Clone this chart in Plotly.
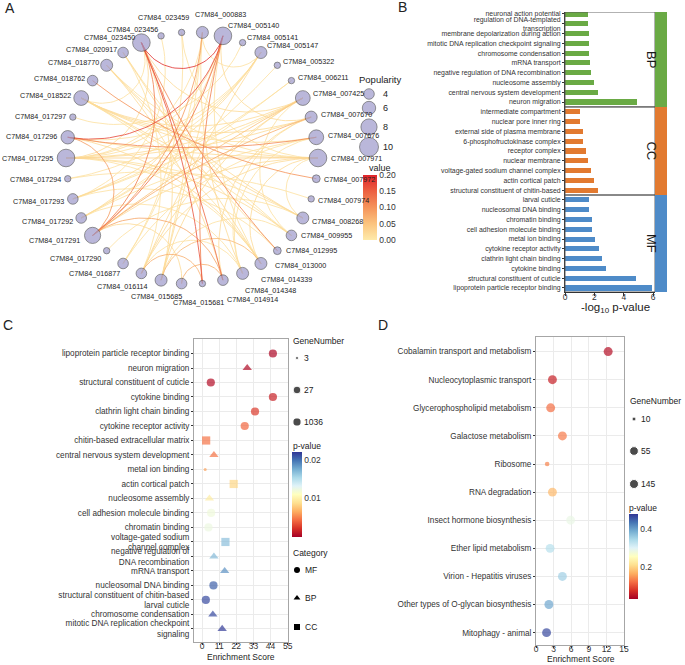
import math
import numpy as np
import plotly.graph_objects as go
from plotly.colors import sample_colorscale

W, H = 685, 665
FONT = "Liberation Sans, Arial, Helvetica, sans-serif"
INK = "#222222"


def fx(p):
    return p / W


def fy(p):
    return 1 - p / H


# ======================= Panel A : network =======================
gene_ids = [
    "C7M84_023450", "C7M84_020917", "C7M84_018770", "C7M84_018762", "C7M84_018522",
    "C7M84_017297", "C7M84_017296", "C7M84_017295", "C7M84_017294", "C7M84_017293",
    "C7M84_017292", "C7M84_017291", "C7M84_017290", "C7M84_016877", "C7M84_016114",
    "C7M84_015685", "C7M84_015681", "C7M84_014914", "C7M84_014348", "C7M84_014339",
    "C7M84_013000", "C7M84_012995", "C7M84_009955", "C7M84_008268", "C7M84_007974",
    "C7M84_007972", "C7M84_007971", "C7M84_007676", "C7M84_007670", "C7M84_007425",
    "C7M84_006211", "C7M84_005322", "C7M84_005147", "C7M84_005141", "C7M84_005140",
    "C7M84_000883", "C7M84_023459", "C7M84_023456"]
popularity = [9, 4, 5, 4, 7, 1, 6, 9, 1, 4, 4, 8, 1, 4, 4, 5, 4, 1, 4, 5,
              5, 2, 4, 5, 1, 2, 9, 7, 5, 7, 1, 1, 5, 1, 9, 5, 1, 1]

edge_from = [
    "023450", "023450", "023450", "023450", "005140", "005140", "023450", "017291",
    "017291", "017296", "018762", "017296", "017291", "016114", "015685", "015681",
    "005140", "017291",
    "018522", "018522", "018522", "018522", "018522", "018522", "018522",
    "017295", "017295", "017295", "017295", "017295", "017295", "017295", "017295",
    "017293", "017293", "017292", "017292", "017292", "017296", "017296",
    "018770", "018770", "018770", "020917", "020917", "020917",
    "023450", "023450", "023450", "023459", "023459", "023456",
    "000883", "000883", "000883", "000883", "005140", "005140", "005140",
    "005141", "005147", "005147", "005322", "006211", "007425", "007425", "007425",
    "007670", "007670", "007676", "007676", "007971", "007971", "007971",
    "007974", "008268", "009955", "013000", "014339", "014348", "015681",
    "016114", "012995", "017291", "017295", "015685"]
edge_to = [
    "005140", "014348", "014914", "012995", "017296", "017291", "017291", "000883",
    "007670", "007676", "007972", "017291", "014348", "014914", "013000", "014348",
    "014914", "007425",
    "007425", "007670", "007676", "007971", "009955", "008268", "013000",
    "007971", "007425", "007670", "008268", "009955", "005147", "005140", "000883",
    "007425", "005147", "005140", "007676", "006211", "005147", "007971",
    "008268", "012995", "007971", "009955", "013000", "016114",
    "018522", "007425", "017295", "007971", "016877", "017293",
    "014339", "015685", "016877", "005147", "015685", "013000", "007670",
    "017297", "017294", "016114", "017292", "017293", "016114", "015685", "009955",
    "014339", "014348", "016877", "014339", "016114", "008268", "013000",
    "017294", "017290", "015685", "017296", "017292", "018770", "017291",
    "014339", "017293", "007971", "013000", "023450"]
edge_value = [
    0.19, 0.14, 0.16, 0.11, 0.17, 0.13, 0.12, 0.09,
    0.07, 0.11, 0.10, 0.09, 0.08, 0.07, 0.06, 0.07,
    0.12, 0.05,
    0.02, 0.02, 0.01, 0.02, 0.01, 0.02, 0.01,
    0.03, 0.02, 0.02, 0.01, 0.02, 0.01, 0.02, 0.01,
    0.01, 0.02, 0.02, 0.01, 0.01, 0.01, 0.02,
    0.02, 0.01, 0.01, 0.01, 0.02, 0.01,
    0.01, 0.02, 0.02, 0.01, 0.01, 0.01,
    0.02, 0.01, 0.01, 0.01, 0.02, 0.01, 0.02,
    0.01, 0.01, 0.02, 0.01, 0.01, 0.02, 0.02, 0.01,
    0.01, 0.02, 0.01, 0.01, 0.02, 0.01, 0.02,
    0.01, 0.01, 0.01, 0.02, 0.01, 0.02, 0.02,
    0.01, 0.01, 0.02, 0.01, 0.02]
popularity_breaks = [4, 6, 8, 10]
value_ticks = [0.0, 0.05, 0.10, 0.15, 0.20]

# ======================= Panel B : GO bars =======================
b_terms = [
    "neuronal action potential",
    "regulation of DNA-templated<br>transcription",
    "membrane depolarization during action",
    "mitotic DNA replication checkpoint signaling",
    "chromosome condensation",
    "mRNA transport",
    "negative regulation of DNA recombination",
    "nucleosome assembly",
    "central nervous system development",
    "neuron migration",
    "intermediate compartment",
    "nuclear pore inner ring",
    "external side of plasma membrane",
    "6-phosphofructokinase complex",
    "receptor complex",
    "nuclear membrane",
    "voltage-gated sodium channel complex",
    "actin cortical patch",
    "structural constituent of chitin-based",
    "larval cuticle",
    "nucleosomal DNA binding",
    "chromatin binding",
    "cell adhesion molecule binding",
    "metal ion binding",
    "cytokine receptor activity",
    "clathrin light chain binding",
    "cytokine binding",
    "structural constituent of cuticle",
    "lipoprotein particle receptor binding"]
b_logp = [1.54, 1.59, 1.63, 1.63, 1.65, 1.72, 1.74, 1.94, 2.26, 4.88,
          1.00, 1.02, 1.20, 1.22, 1.45, 1.59, 1.75, 2.00, 2.27,
          1.63, 1.63, 1.86, 1.86, 2.06, 2.31, 2.52, 2.81, 4.85, 5.94]
b_ontology = ["BP", "BP", "BP", "BP", "BP", "BP", "BP", "BP", "BP", "BP",
              "CC", "CC", "CC", "CC", "CC", "CC", "CC", "CC", "CC",
              "MF", "MF", "MF", "MF", "MF", "MF", "MF", "MF", "MF", "MF"]
b_ticks = [0, 2, 4, 6]

# ======================= Panel C : GO dots =======================
c_terms = [
    "lipoprotein particle receptor binding",
    "neuron migration",
    "structural constituent of cuticle",
    "cytokine binding",
    "clathrin light chain binding",
    "cytokine receptor activity",
    "chitin-based extracellular matrix",
    "central nervous system development",
    "metal ion binding",
    "actin cortical patch",
    "nucleosome assembly",
    "cell adhesion molecule binding",
    "chromatin binding",
    "voltage-gated sodium<br>channel complex",
    "negative regulation of<br>DNA recombination",
    "mRNA transport",
    "nucleosomal DNA binding",
    "structural constituent of chitin-based<br>larval cuticle",
    "chromosome condensation",
    "mitotic DNA replication checkpoint<br>signaling"]
c_category = ["MF", "BP", "MF", "MF", "MF", "MF", "CC", "BP", "MF", "CC",
              "BP", "MF", "MF", "CC", "BP", "BP", "MF", "MF", "BP", "BP"]
c_score = [45.5, 29.0, 5.6, 45.5, 34.0, 27.4, 2.6, 7.6, 2.0, 20.3,
           4.7, 5.8, 4.1, 15.0, 7.6, 14.5, 7.3, 2.4, 6.9, 12.9]
c_pvalue = [0.0004, 0.0005, 0.0006, 0.0015, 0.0026, 0.0042, 0.0046, 0.0046, 0.0062, 0.0084,
            0.0097, 0.0121, 0.0123, 0.0167, 0.0169, 0.0187, 0.0205, 0.0213, 0.0213, 0.0218]
c_genes = [150, 60, 120, 90, 70, 80, 100, 40, 3, 110,
           40, 90, 85, 100, 40, 45, 95, 120, 40, 60]
c_gene_breaks = [3, 27, 1036]
c_ticks = [0, 11, 22, 33, 44, 55]
c_p_ticks = [0.01, 0.02]
category_order = ["MF", "BP", "CC"]

# ======================= Panel D : KEGG dots =======================
d_terms = [
    "Cobalamin transport and metabolism",
    "Nucleocytoplasmic transport",
    "Glycerophospholipid metabolism",
    "Galactose metabolism",
    "Ribosome",
    "RNA degradation",
    "Insect hormone biosynthesis",
    "Ether lipid metabolism",
    "Virion - Hepatitis viruses",
    "Other types of O-glycan biosynthesis",
    "Mitophagy - animal"]
d_score = [12.3, 2.8, 2.5, 4.5, 1.9, 2.8, 5.9, 2.4, 4.5, 2.2, 1.8]
d_pvalue = [0.044, 0.06, 0.12, 0.13, 0.135, 0.175, 0.285, 0.335, 0.355, 0.395, 0.467]
d_genes = [145, 70, 80, 75, 12, 85, 60, 65, 70, 75, 80]
d_gene_breaks = [10, 55, 145]
d_ticks = [0, 3, 6, 9, 12, 15]
d_p_ticks = [0.2, 0.4]

# ======================= styles =======================
RDYLBU = [[0.0, "rgb(165,0,38)"], [0.1, "rgb(215,48,39)"], [0.2, "rgb(244,109,67)"],
          [0.3, "rgb(253,174,97)"], [0.4, "rgb(254,224,144)"], [0.5, "rgb(255,255,191)"],
          [0.6, "rgb(224,243,248)"], [0.7, "rgb(171,217,233)"], [0.8, "rgb(116,173,209)"],
          [0.9, "rgb(69,117,180)"], [1.0, "rgb(49,54,149)"]]
VALUE_SCALE = [[0.0, "rgb(254,234,170)"], [0.25, "rgb(251,196,126)"], [0.5, "rgb(245,147,90)"],
               [0.75, "rgb(236,96,64)"], [1.0, "rgb(224,36,42)"]]
ONTO_COLOR = {"BP": "#6AAA45", "CC": "#E27A30", "MF": "#4E8BC8"}
SYMBOL = {"MF": "circle", "BP": "triangle-up", "CC": "square"}
NODE_COLOR = "#9D99CB"
VALUE_MAX = 0.2


def node_size(p):
    return 5 + 1.4 * p


def c_size(n):
    return 3 + 5.2 * (1 - math.exp(-(n - 3) / 10.0))


def d_size(n):
    return 4 + 5.0 * (1 - math.exp(-(n - 10) / 15.0))


def cbar(x, ytop, length, thick, tickvals, ticktext):
    return dict(x=fx(x), xanchor="left", y=fy(ytop), yanchor="top",
                len=length, lenmode="pixels", thickness=thick, thicknessmode="pixels",
                xpad=0, ypad=0, outlinewidth=0, ticks="", tickvals=tickvals, ticktext=ticktext,
                tickfont=dict(size=8.5, color="#333333", family=FONT))


fig = go.Figure()
annotations = []
shapes = []

# ---------------- A: layout on a circle ----------------
n_nodes = len(gene_ids)
step = 2 * math.pi / n_nodes
theta0 = math.pi - 7 * step
theta = [theta0 + i * step for i in range(n_nodes)]
node_x = [math.cos(t) for t in theta]
node_y = [math.sin(t) for t in theta]
pos = {g.split("_")[1]: i for i, g in enumerate(gene_ids)}


def geodesic(a, b, n=40):
    p1 = np.array([math.cos(a), math.sin(a)])
    p2 = np.array([math.cos(b), math.sin(b)])
    delta = ((b - a + math.pi) % (2 * math.pi)) - math.pi
    D = abs(delta)
    if D > math.pi - 0.03:
        t = np.linspace(0, 1, n)
        return p1[0] + (p2[0] - p1[0]) * t, p1[1] + (p2[1] - p1[1]) * t
    mid = a + delta / 2
    O = np.array([math.cos(mid), math.sin(mid)]) / math.cos(D / 2)
    R = math.tan(D / 2)
    f1 = math.atan2(p1[1] - O[1], p1[0] - O[0])
    f2 = math.atan2(p2[1] - O[1], p2[0] - O[0])
    sweep = ((f2 - f1 + math.pi) % (2 * math.pi)) - math.pi
    f = f1 + sweep * np.linspace(0, 1, n)
    return O[0] + R * np.cos(f), O[1] + R * np.sin(f)


order = sorted(range(len(edge_value)), key=lambda k: edge_value[k])
for k in order:
    i, j = pos[edge_from[k]], pos[edge_to[k]]
    ex, ey = geodesic(theta[i], theta[j])
    col = sample_colorscale(VALUE_SCALE, [min(edge_value[k] / VALUE_MAX, 1.0)])[0]
    fig.add_trace(go.Scatter(x=ex, y=ey, mode="lines", line=dict(color=col, width=0.95),
                             opacity=0.85, hoverinfo="skip", showlegend=False,
                             xaxis="x", yaxis="y"))

# colour bar for edge value
fig.add_trace(go.Scatter(
    x=[None], y=[None], mode="markers", showlegend=False, hoverinfo="skip",
    marker=dict(color=[0.0], cmin=0, cmax=VALUE_MAX, colorscale=VALUE_SCALE, showscale=True,
                colorbar=cbar(363, 175, 65, 14, value_ticks, ["%.2f" % v for v in value_ticks])),
    xaxis="x", yaxis="y"))

node_d = [node_size(p) for p in popularity]
fig.add_trace(go.Scatter(
    x=node_x, y=node_y, mode="markers", showlegend=False, hoverinfo="text", text=gene_ids,
    marker=dict(size=node_d, color=NODE_COLOR, line=dict(color="#2b2b2b", width=0.7)),
    cliponaxis=False, xaxis="x", yaxis="y"))

# node labels, pushed outward (repel-like placement around the ring)
for i, g in enumerate(gene_ids):
    c, s = math.cos(theta[i]), math.sin(theta[i])
    r = node_d[i] / 2
    off = r + 2
    ya = "middle"
    if s > 0 and abs(c) < 0.15:
        xa, ya = "center", "bottom"
        xs = 18 * (1 if c > 0 else -1)
        ys = off + 3
    elif s < -0.5 and c < 0:
        u = max(0.0, 0.8 + c)
        xa = "right"
        xs = -off + 100 * u * u
        ys = -(5 + 20 * u)
    elif s < -0.5:
        xa = "left"
        xs = off + max(0.0, 0.7 - c) * 28
        ys = -max(0.0, 0.6 - c) * 30
    elif c < 0:
        xa = "right"
        xs = off * c
        k = 1.2 if (s > 0 and abs(c) < 0.3) else (0.5 if s > 0 else 1.0)
        ys = off * s * k
    else:
        xa = "left"
        xs = off * c
        ys = off * s
    annotations.append(dict(x=node_x[i], y=node_y[i], xref="x", yref="y", text=g,
                            showarrow=False, xanchor=xa, yanchor=ya,
                            xshift=xs, yshift=ys,
                            font=dict(size=7.2, color=INK, family=FONT)))

# ---------------- B: bars ----------------
nb = len(b_terms)
b_rows = list(range(nb))
B_LO, B_HI = -0.2, nb - 1 + 0.41
fig.add_trace(go.Bar(x=b_logp, y=b_rows, orientation="h", width=0.52,
                     marker=dict(color=[ONTO_COLOR[o] for o in b_ontology], line=dict(width=0)),
                     showlegend=False, hoverinfo="x", xaxis="x2", yaxis="y2"))
for g in ["BP", "CC", "MF"]:
    idx = [i for i, o in enumerate(b_ontology) if o == g]
    y0 = idx[0] - 0.5 if idx[0] > 0 else B_LO
    y1 = idx[-1] + 0.5 if idx[-1] < nb - 1 else B_HI
    shapes.append(dict(type="rect", xref="x2 domain", yref="y2", x0=0, x1=1, y0=y0, y1=y1,
                       line=dict(color="#555555", width=0.9), fillcolor="rgba(0,0,0,0)"))
    shapes.append(dict(type="rect", xref="paper", yref="y2", x0=fx(655), x1=fx(667),
                       y0=y0, y1=y1, line=dict(width=0), fillcolor=ONTO_COLOR[g]))
    annotations.append(dict(x=fx(661), y=(y0 + y1) / 2, xref="paper", yref="y2", text=g,
                            textangle=90, showarrow=False,
                            font=dict(size=13, color="#1a1a1a", family=FONT)))

# ---------------- C: dot plot ----------------
c_rows = list(range(len(c_terms)))
fig.add_trace(go.Scatter(
    x=c_score, y=c_rows, mode="markers", showlegend=False, cliponaxis=False,
    text=c_terms, hoverinfo="text+x",
    marker=dict(size=[c_size(n) for n in c_genes], symbol=[SYMBOL[c] for c in c_category],
                color=c_pvalue, cmin=0, cmax=0.022, colorscale=RDYLBU, showscale=True,
                line=dict(width=0),
                colorbar=cbar(292, 452, 85, 10, c_p_ticks, ["%.2f" % v for v in c_p_ticks])),
    xaxis="x3", yaxis="y3"))

# ---------------- D: dot plot ----------------
d_rows = list(range(len(d_terms)))
fig.add_trace(go.Scatter(
    x=d_score, y=d_rows, mode="markers", showlegend=False, cliponaxis=False,
    text=d_terms, hoverinfo="text+x",
    marker=dict(size=[d_size(n) for n in d_genes], symbol="circle",
                color=d_pvalue, cmin=0.03, cmax=0.48, colorscale=RDYLBU, showscale=True,
                line=dict(width=0),
                colorbar=cbar(629, 514, 85, 9, d_p_ticks, ["%.1f" % v for v in d_p_ticks])),
    xaxis="x4", yaxis="y4"))

# ---------------- legend glyphs (overlay in pixel space) ----------------
pop_y = [94, 108, 127, 147]
fig.add_trace(go.Scatter(x=[369] * len(popularity_breaks), y=pop_y, mode="markers",
                         marker=dict(size=[node_size(p) for p in popularity_breaks], color=NODE_COLOR,
                                     line=dict(color="#2b2b2b", width=0.7)),
                         showlegend=False, hoverinfo="skip", cliponaxis=False,
                         xaxis="x5", yaxis="y5"))
for p, yy in zip(popularity_breaks, pop_y):
    annotations.append(dict(x=fx(381), y=fy(yy), xref="paper", yref="paper", text=str(p),
                            showarrow=False, xanchor="left", yanchor="middle",
                            font=dict(size=9, color=INK, family=FONT)))

cg_y = [358, 390, 422]
fig.add_trace(go.Scatter(x=[297] * 3, y=cg_y, mode="markers",
                         marker=dict(size=[c_size(n) for n in c_gene_breaks], color="black"),
                         showlegend=False, hoverinfo="skip", cliponaxis=False,
                         xaxis="x5", yaxis="y5"))
for n, yy in zip(c_gene_breaks, cg_y):
    annotations.append(dict(x=fx(302), y=fy(yy), xref="paper", yref="paper", text=str(n),
                            showarrow=False, xanchor="left", yanchor="middle",
                            font=dict(size=8.5, color=INK, family=FONT)))

cat_y = [570, 598, 627]
fig.add_trace(go.Scatter(x=[297] * 3, y=cat_y, mode="markers",
                         marker=dict(size=6, symbol=[SYMBOL[c] for c in category_order], color="black"),
                         showlegend=False, hoverinfo="skip", cliponaxis=False,
                         xaxis="x5", yaxis="y5"))
for c, yy in zip(category_order, cat_y):
    annotations.append(dict(x=fx(303), y=fy(yy), xref="paper", yref="paper", text=c,
                            showarrow=False, xanchor="left", yanchor="middle",
                            font=dict(size=8.5, color=INK, family=FONT)))

dg_y = [419, 451, 484]
fig.add_trace(go.Scatter(x=[634] * 3, y=dg_y, mode="markers",
                         marker=dict(size=[d_size(n) for n in d_gene_breaks], color="black"),
                         showlegend=False, hoverinfo="skip", cliponaxis=False,
                         xaxis="x5", yaxis="y5"))
for n, yy in zip(d_gene_breaks, dg_y):
    annotations.append(dict(x=fx(639), y=fy(yy), xref="paper", yref="paper", text=str(n),
                            showarrow=False, xanchor="left", yanchor="middle",
                            font=dict(size=8.5, color=INK, family=FONT)))


def label(text, x, y, size=8.5, xanchor="left", yanchor="middle"):
    annotations.append(dict(x=fx(x), y=fy(y), xref="paper", yref="paper", text=text,
                            showarrow=False, xanchor=xanchor, yanchor=yanchor,
                            font=dict(size=size, color=INK, family=FONT)))


label("A", 10, 8, 14, "center")
label("B", 402, 7, 14, "center")
label("C", 8, 325, 14, "center")
label("D", 383, 325, 14, "center")
label("Popularity", 357, 79, 9.5)
label("value", 380, 168, 9, "center")
label("-log<sub>10</sub> p-value", 615, 308, 11.5, "center")
label("GeneNumber", 291, 341, 8.5)
label("p-value", 291, 446, 8.5)
label("Category", 291, 553, 8.5)
label("Enrichment Score", 241, 657, 8.5, "center")
label("GeneNumber", 628, 401, 8.5)
label("p-value", 627, 508, 8.5)
label("Enrichment Score", 581, 659, 8.5, "center")

# ---------------- axes ----------------
tickfont = dict(size=8.5, color="#333333", family=FONT)
hidden = dict(visible=False, showgrid=False, zeroline=False, automargin=False, fixedrange=True)


def dot_x(domain, rng, ticks):
    return dict(domain=domain, range=rng, tickvals=ticks, ticks="outside", ticklen=2,
                tickcolor="#333333", tickfont=tickfont, showgrid=True, gridcolor="#EBEBEB",
                gridwidth=0.8, zeroline=False, showline=True, mirror=True, linecolor="#A6A6A6",
                linewidth=1, automargin=False, ticklabelstandoff=-6)


def dot_y(domain, rng, labels):
    return dict(domain=domain, range=rng, tickvals=list(range(len(labels))), ticktext=labels,
                ticks="outside", ticklen=2, tickcolor="#333333",
                tickfont=dict(size=8.2, color="#333333", family=FONT),
                showgrid=True, gridcolor="#EBEBEB", gridwidth=0.8, zeroline=False,
                showline=True, mirror=True, linecolor="#A6A6A6", linewidth=1, automargin=False)


fig.update_layout(
    width=W, height=H, margin=dict(l=0, r=0, t=0, b=0), template="none",
    paper_bgcolor="white", plot_bgcolor="rgba(0,0,0,0)", showlegend=False,
    font=dict(family=FONT, color=INK), bargap=0,
    xaxis=dict(hidden, domain=[0, fx(345)], range=[(0 - 192) / 126, (345 - 192) / 126], anchor="y"),
    yaxis=dict(hidden, domain=[fy(320), 1], range=[(158 - 320) / 126, 158 / 126], anchor="x"),
    xaxis2=dict(domain=[fx(565), fx(655)], range=[0, 90 / 14.7], tickvals=b_ticks, ticks="outside",
                ticklen=2.5, tickcolor="#333333", tickfont=tickfont, showgrid=False, zeroline=False,
                showline=True, linecolor="#333333", linewidth=1, automargin=False, anchor="y2",
                ticklabelstandoff=-6),
    yaxis2=dict(domain=[fy(292), fy(12)], range=[B_HI, B_LO], tickvals=b_rows, ticktext=b_terms,
                ticks="outside", ticklen=2, tickcolor="#333333",
                tickfont=dict(size=6.9, color="#333333", family=FONT), showgrid=False,
                zeroline=False, showline=True, linecolor="#333333", linewidth=1,
                automargin=False, anchor="x2"),
    xaxis3=dict(dot_x([fx(194), fx(288)], [-5.2, 55.2], c_ticks), anchor="y3"),
    yaxis3=dict(dot_y([fy(642), fy(339)], [len(c_terms) - 0.1, -1.0], c_terms), anchor="x3"),
    xaxis4=dict(dot_x([fx(536), fx(624)], [0, 15], d_ticks), anchor="y4"),
    yaxis4=dict(dot_y([fy(645), fy(337)], [len(d_terms) - 0.56, -0.52], d_terms), anchor="x4"),
    xaxis5=dict(hidden, domain=[0, 1], range=[0, W], anchor="y5"),
    yaxis5=dict(hidden, domain=[0, 1], range=[H, 0], anchor="x5"),
    annotations=annotations, shapes=shapes,
)

fig.write_html("out.html", config={"displayModeBar": False}, post_script=(
    "document.body.style.margin='0px';document.body.style.padding='0px';"
    "document.body.style.overflow='hidden';"))
